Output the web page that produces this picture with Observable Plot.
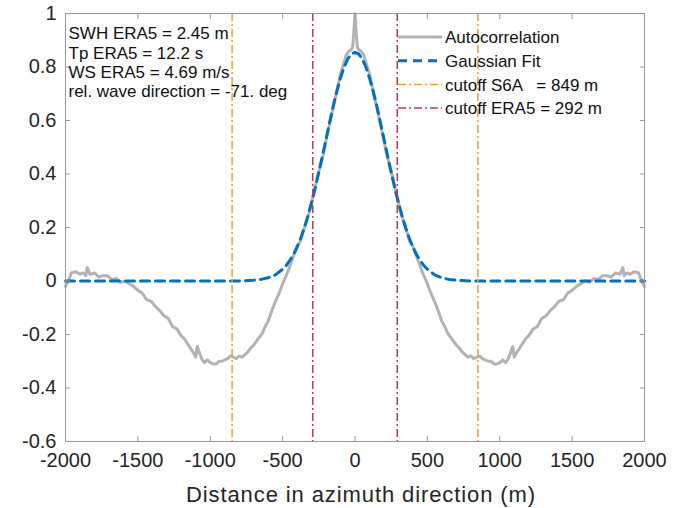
<!DOCTYPE html>
<html>
<head>
<meta charset="utf-8">
<script src="https://cdn.jsdelivr.net/npm/d3@7"></script>
<script src="https://cdn.jsdelivr.net/npm/@observablehq/plot@0.6"></script>
<style>
  body { margin: 0; background: #fff; }
  #chart svg { display: block; }
</style>
</head>
<body>
<div id="chart"></div>
<script>
// ---- Data (positive half; the autocorrelation and fit are symmetric about 0) ----
const acDist = [0, 8, 16, 25, 40, 60, 80, 100, 120, 140, 160, 180, 200, 220, 240, 260, 280, 300, 320, 340, 360, 380, 400, 420, 440, 460, 480, 500,
  520, 540, 560, 580, 600, 620, 640, 660, 680, 700, 720, 740, 760, 780, 800, 820, 840, 860, 880, 900, 920, 940, 960, 980, 1000, 1020, 1040, 1060, 1080,
  1090, 1100, 1120,
  1150, 1180, 1200, 1230, 1260, 1290, 1320, 1350, 1380, 1410, 1440, 1470, 1500, 1530, 1560, 1590, 1620, 1650, 1680, 1710, 1740, 1770, 1800, 1830,
  1850, 1860, 1880, 1900, 1930, 1960, 1980, 2000];
const acValue = [1.0, 0.93, 0.875, 0.865, 0.86, 0.845, 0.81, 0.775, 0.725, 0.675, 0.625, 0.575, 0.525, 0.47, 0.43, 0.39, 0.34, 0.295, 0.25, 0.215, 0.18, 0.145, 0.13, 0.1, 0.07, 0.04, 0.015, -0.01,
  -0.04, -0.065, -0.09, -0.12, -0.15, -0.17, -0.195, -0.21, -0.225, -0.24, -0.25, -0.265, -0.275, -0.285, -0.28, -0.29, -0.285, -0.28, -0.29, -0.295, -0.30, -0.30, -0.31, -0.31, -0.305, -0.295, -0.305, -0.29, -0.26,
  -0.245, -0.285, -0.265,
  -0.24, -0.215, -0.205, -0.18, -0.17, -0.14, -0.13, -0.11, -0.095, -0.075, -0.07, -0.045, -0.035, -0.02, -0.01, 0.0, -0.005, 0.01, 0.005, 0.02, 0.02, 0.015, 0.03, 0.025,
  0.05, 0.02, 0.03, 0.025, 0.035, 0.03, 0.0, -0.02];

const fitDist = [0, 25, 50, 75, 100, 125, 150, 175, 200, 225, 250, 275, 300, 325, 350, 375, 400, 425, 450, 475, 500, 550, 600, 650, 700, 800, 2000];
const fitValue = [0.855, 0.849, 0.830, 0.800, 0.759, 0.710, 0.655, 0.594, 0.531, 0.468, 0.406, 0.347, 0.293, 0.243, 0.199, 0.160, 0.127, 0.099, 0.077, 0.058, 0.044, 0.023, 0.012, 0.006, 0.003, 0.0, 0.0];

const cutoffS6A = [-849, 849];
const cutoffERA5 = [-292, 292];

const xTicks = [-2000, -1500, -1000, -500, 0, 500, 1000, 1500, 2000];
const yTicks = [-0.6, -0.4, -0.2, 0, 0.2, 0.4, 0.6, 0.8, 1];

const infoLines = ["SWH ERA5 = 2.45 m", "Tp ERA5 = 12.2 s", "WS ERA5 = 4.69 m/s", "rel. wave direction = -71. deg"];
const legendLabels = ["Autocorrelation", "Gaussian Fit", "cutoff S6A   = 849 m", "cutoff ERA5 = 292 m"];
const xLabel = "Distance in azimuth direction (m)";

// ---- Build symmetric tables ----
function mirror(dist, vals) {
  const out = [];
  for (let i = dist.length - 1; i > 0; i--) out.push({d: -dist[i], v: vals[i]});
  for (let i = 0; i < dist.length; i++) out.push({d: dist[i], v: vals[i]});
  return out;
}
const acData = mirror(acDist, acValue);
const fitData = mirror(fitDist, fitValue);

const fontFamily = "'Liberation Sans', Arial, Helvetica, sans-serif";
const fmt = d => String(+(+d).toFixed(1));
const axisGray = "#9a9a9a";
const colors = {ac: "#b3b3b3", fit: "#0072BD", s6a: "#E9A135", era5: "#C8334E"};
const dashDot = "8,3,2,3";

const svg = Plot.plot({
  width: 677,
  height: 508,
  marginLeft: 65,
  marginRight: 33,
  marginTop: 13,
  marginBottom: 67,
  style: {fontFamily, fontSize: "20px", color: "#262626", background: "#fff", overflow: "visible"},
  x: {domain: [-2000, 2000], label: null},
  y: {domain: [-0.6, 1], label: null},
  marks: [
    Plot.line(acData, {x: "d", y: "v", stroke: colors.ac, strokeWidth: 3}),
    Plot.line(fitData, {x: "d", y: "v", stroke: colors.fit, strokeWidth: 3, strokeDasharray: "9,6"}),
    Plot.ruleX(cutoffS6A, {stroke: colors.s6a, strokeWidth: 1.5, strokeDasharray: dashDot}),
    Plot.ruleX(cutoffERA5, {stroke: colors.era5, strokeWidth: 1.5, strokeDasharray: dashDot}),
    Plot.frame({stroke: axisGray}),
    // inward ticks on all four sides
    Plot.axisX(xTicks, {anchor: "bottom", tickSize: 5, dy: -5, fill: "none", stroke: axisGray, label: null}),
    Plot.axisX(xTicks, {anchor: "top", tickSize: 5, dy: 5, fill: "none", stroke: axisGray, label: null}),
    Plot.axisY(yTicks, {anchor: "left", tickSize: 5, dx: 5, fill: "none", stroke: axisGray, label: null}),
    Plot.axisY(yTicks, {anchor: "right", tickSize: 5, dx: -5, fill: "none", stroke: axisGray, label: null}),
    // tick labels
    Plot.axisX(xTicks, {anchor: "bottom", tickSize: 0, tickPadding: 11, tickFormat: fmt, fontSize: 20, label: null}),
    Plot.axisY(yTicks, {anchor: "left", tickSize: 0, tickPadding: 9, tickFormat: fmt, fontSize: 20, label: null}),
    // x label
    Plot.text([xLabel], {frameAnchor: "bottom", dx: 6, dy: 53, lineAnchor: "middle", fontSize: 22, fill: "#262626"}),
    // info text box
    Plot.text([infoLines.join("\n")], {frameAnchor: "top-left", dx: 3, dy: 12, lineAnchor: "top", textAnchor: "start", fontSize: 17, lineHeight: 1.14, fill: "#111"})
  ]
});

// x label letter spacing (MATLAB's rendering is a little wider)
d3.select(svg).selectAll("text").filter(function() { return this.textContent === xLabel; })
  .style("letter-spacing", "0.9px");

// ---- Legend (no box), drawn into the same SVG ----
const legendItems = [
  {label: legendLabels[0], stroke: colors.ac, width: 3, dash: null},
  {label: legendLabels[1], stroke: colors.fit, width: 3, dash: "9,6"},
  {label: legendLabels[2], stroke: colors.s6a, width: 1.5, dash: dashDot},
  {label: legendLabels[3], stroke: colors.era5, width: 1.5, dash: dashDot}
];
const lg = d3.select(svg).append("g")
  .attr("font-family", fontFamily).attr("font-size", 17).attr("text-anchor", "start");
legendItems.forEach((it, i) => {
  const cy = 37 + i * 23.7;
  const ln = lg.append("line").attr("x1", 398).attr("x2", 442).attr("y1", cy).attr("y2", cy)
    .attr("stroke", it.stroke).attr("stroke-width", it.width);
  if (it.dash) ln.attr("stroke-dasharray", it.dash);
  lg.append("text").attr("x", 445).attr("y", cy).attr("dy", "0.36em").attr("fill", "#111")
    .attr("text-anchor", "start").style("white-space", "pre").text(it.label);
});

document.getElementById("chart").appendChild(svg);
</script>
</body>
</html>
